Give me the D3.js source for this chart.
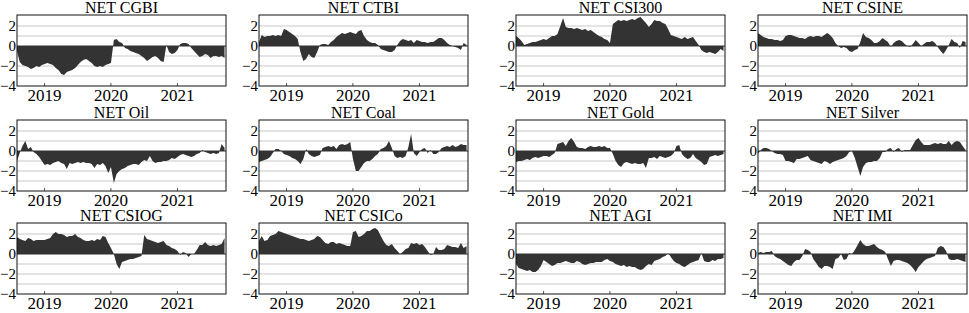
<!DOCTYPE html>
<html>
<head>
<meta charset="utf-8">
<script src="https://cdn.jsdelivr.net/npm/d3@7"></script>
<style>
    body { margin: 0; background: #fff; }
    svg text { font-family: "Liberation Serif", "Times New Roman", serif; fill: #000; }
    .tick text { font-family: "Liberation Serif", "Times New Roman", serif !important; }
</style>
</head>
<body>
<div id="chart"></div>
<script>
// semi-monthly readings, Aug 2018 - Sep 2021
const titles = ["NET CGBI", "NET CTBI", "NET CSI300", "NET CSINE",
    "NET Oil", "NET Coal", "NET Gold", "NET Silver",
    "NET CSIOG", "NET CSICo", "NET AGI", "NET IMI"];

const cgbi = [-0.5,-1.6,-1.9,-2.0,-2.1,-2.3,-2.2,-2.0,-2.1,-1.9,-1.8,-1.7,-1.8,-1.9,-2.2,-2.4,-2.8,-2.9,-2.6,-2.5,
    -2.4,-2.2,-1.9,-1.6,-1.4,-1.3,-1.5,-1.7,-2.0,-2.1,-2.0,-2.1,-1.9,-1.8,-1.7,0.6,0.7,0.4,0.3,-0.2,
    -0.3,-0.5,-0.6,-0.7,-0.8,-1.0,-1.2,-1.5,-1.3,-1.1,-1.0,-1.2,-1.5,-1.6,0.1,-0.6,-0.8,-0.7,-0.4,0.2,
    0.3,0.3,0.2,-0.2,-0.5,-0.8,-1.1,-1.0,-0.8,-0.9,-1.2,-1.0,-1.0,-1.1,-1.0,-1.2];
const ctbi = [0.4,1.1,0.9,1.0,1.0,1.1,1.0,1.1,1.0,1.7,1.6,1.4,1.2,1.0,0.7,-0.6,-1.5,-1.3,-0.8,-1.1,
    -1.2,-0.6,0.1,0.2,0.2,0.1,0.4,0.6,0.9,1.1,1.3,1.2,1.3,1.4,1.3,1.2,1.5,1.6,1.0,0.6,
    0.4,0.3,0.3,0.1,-0.3,-0.4,-0.5,-0.6,-0.6,-0.4,0.1,0.5,0.7,0.6,0.5,0.6,0.3,0.6,0.5,0.4,
    0.4,0.3,0.4,0.4,0.6,0.8,0.8,0.6,0.3,0.1,0.0,-0.1,-0.2,-0.4,0.3,0.1];
const csi300 = [1.0,0.8,0.5,0.1,0.2,0.3,0.4,0.4,0.5,0.6,0.7,0.6,0.8,1.0,1.0,1.2,2.0,2.8,1.9,1.8,
    1.8,1.7,1.8,1.7,1.6,1.7,1.5,1.6,1.4,1.2,1.0,0.9,0.7,0.6,0.3,2.2,2.4,2.6,2.5,2.6,
    2.5,2.6,2.7,2.6,2.8,2.9,2.6,2.3,1.9,2.2,2.6,2.5,2.5,2.3,2.2,1.7,1.1,1.0,0.9,0.8,
    0.7,0.9,0.7,0.8,0.9,0.5,0.1,-0.4,-0.6,-0.7,-0.6,-0.7,-0.8,-0.6,-0.3,-0.5];
const csine = [1.3,1.1,0.9,0.8,0.7,0.7,0.6,0.6,0.5,0.6,1.0,1.1,1.1,1.0,0.9,0.8,0.8,0.7,0.9,1.0,
    0.9,1.0,1.0,0.9,1.1,1.3,1.1,0.8,0.3,0.0,-0.2,-0.1,-0.2,-0.5,-0.6,-0.4,-0.3,0.4,1.3,0.9,
    0.8,0.6,0.3,0.3,0.5,0.8,0.6,0.4,-0.1,0.3,0.5,0.6,0.5,0.2,0.0,-0.1,0.2,0.6,0.3,0.0,
    0.2,0.4,0.4,0.5,0.3,-0.1,-0.5,-0.8,-0.4,0.1,0.7,0.4,0.3,-0.2,0.5,0.4];
const oil = [-1.0,-0.2,0.5,1.0,0.2,0.4,-0.1,-0.3,-0.6,-1.0,-1.4,-1.3,-1.4,-1.2,-1.1,-1.0,-1.2,-1.3,-1.8,-1.2,
    -1.3,-1.2,-1.1,-1.2,-1.1,-1.2,-1.2,-1.3,-1.7,-1.3,-1.4,-1.2,-1.5,-2.2,-1.6,-3.2,-2.3,-2.0,-1.8,-1.7,
    -1.5,-1.4,-1.3,-1.3,-1.4,-1.1,-0.9,-1.0,-0.5,-1.0,-1.2,-1.1,-1.1,-1.0,-1.0,-0.9,-0.7,-0.8,-0.6,-0.4,
    -0.3,-0.4,-0.5,-0.6,-0.5,-0.3,-0.2,0.1,-0.1,-0.2,-0.3,-0.2,-0.3,-0.2,0.7,0.3];
const coal = [-1.1,-1.0,-0.9,-0.8,-0.6,-0.2,0.2,0.2,0.0,-0.3,-0.4,-0.5,-0.7,-0.8,-1.0,-1.3,-0.8,0.2,-0.3,-0.5,
    -0.6,-0.5,-0.4,0.3,0.4,0.5,0.4,0.5,0.2,0.6,0.7,0.6,0.7,0.9,-0.8,-2.0,-2.0,-1.6,-1.2,-1.0,
    -1.0,-0.8,-0.5,-0.3,0.2,0.3,0.5,1.0,0.3,-0.5,-0.7,-0.6,-0.7,-0.5,0.4,1.7,-0.2,-0.5,-0.1,0.2,
    0.3,-0.2,0.1,-0.3,-0.3,-0.1,0.3,0.4,0.5,0.4,0.6,0.4,0.5,0.7,0.6,0.6];
const gold = [-1.1,-1.0,-1.0,-0.9,-0.8,-0.9,-0.7,-0.6,-0.7,-0.6,-0.5,-0.5,-0.6,-0.4,-0.2,0.7,0.8,0.9,0.5,1.0,
    1.3,0.9,0.4,0.3,0.3,0.2,0.4,0.5,0.4,0.4,0.5,0.4,0.5,0.3,0.3,-0.3,-1.0,-1.4,-1.6,-1.2,
    -1.1,-1.2,-1.3,-1.2,-1.3,-1.3,-1.2,-1.7,-0.7,-0.7,-0.6,-0.8,-0.5,-0.6,-0.7,-0.6,-0.5,-0.2,0.5,0.6,
    -0.3,-0.6,-0.8,-0.7,-0.3,-0.7,-0.9,-1.1,-1.4,-1.3,-0.6,-0.5,-0.4,-0.5,-0.4,-0.3];
const silver = [-0.3,0.1,0.3,0.3,0.2,0.0,-0.2,-0.3,-0.3,-0.4,-1.0,-1.0,-1.1,-1.2,-0.8,-0.8,-0.7,-0.6,-0.5,-0.9,
    -1.0,-1.1,-1.2,-1.3,-1.0,-1.1,-1.3,-1.1,-1.0,-0.9,-0.8,-0.7,-0.5,-0.1,0.0,-0.7,-1.6,-2.5,-1.6,-1.2,
    -1.1,-1.1,-1.0,-1.0,-0.7,-0.1,-0.1,0.2,0.3,-0.1,0.2,0.3,-0.1,0.1,0.1,0.1,0.6,1.1,1.3,0.9,
    0.6,0.6,0.6,0.7,0.8,0.7,0.8,0.7,0.7,1.0,0.6,0.9,1.0,0.9,0.5,0.1];
const csiog = [1.7,1.5,1.4,1.3,1.6,1.5,1.3,1.4,1.4,1.4,1.4,1.5,1.6,2.0,2.2,2.0,2.0,1.9,1.7,1.8,
    1.8,2.0,1.7,1.6,1.4,1.3,1.3,1.4,1.3,1.5,1.4,1.8,1.7,1.1,0.6,0.0,-1.0,-1.5,-0.8,-0.7,
    -0.6,-0.5,-0.5,-0.4,-0.3,-0.2,1.9,1.5,1.4,1.3,1.2,1.1,1.2,1.3,0.9,0.8,0.6,0.5,0.3,-0.1,
    0.2,0.1,-0.3,0.0,0.0,0.4,0.9,0.9,1.2,0.9,0.8,0.9,0.8,0.9,1.0,1.6];
const csico = [1.3,1.8,1.3,1.4,1.8,1.9,2.0,2.3,2.2,2.1,2.0,1.9,1.8,1.7,1.6,1.5,1.5,1.4,1.3,1.4,
    1.5,1.8,1.7,1.4,1.1,1.0,1.2,1.2,1.0,1.1,1.0,0.9,0.8,0.8,2.2,2.3,1.7,1.8,2.0,2.3,
    2.3,2.5,2.6,2.4,1.8,1.3,0.9,0.8,1.0,0.6,0.3,0.0,0.2,0.5,0.6,1.1,1.0,1.1,0.9,1.0,
    0.7,0.3,-0.1,0.0,0.7,0.4,0.4,0.5,0.9,0.8,0.7,0.7,0.6,1.1,0.6,0.8];
const agi = [-1.0,-1.4,-1.5,-1.6,-1.7,-1.6,-1.8,-1.8,-1.6,-1.2,-0.6,-0.8,-1.0,-1.2,-1.1,-0.9,-0.9,-0.8,-0.7,-0.8,
    -0.9,-0.9,-0.7,-0.8,-1.0,-1.1,-1.0,-0.9,-0.9,-0.8,-0.8,-0.8,-0.6,-0.5,-0.7,-0.8,-1.0,-1.1,-1.2,-1.1,
    -1.3,-1.2,-1.3,-1.3,-1.5,-1.6,-1.5,-1.2,-1.0,-1.1,-0.7,-0.6,-0.5,-0.3,-0.2,0.1,-0.3,-0.7,-0.9,-1.0,
    -1.2,-1.3,-1.1,-0.9,-0.8,-0.7,-0.6,0.1,-0.7,-0.8,-0.8,-0.6,-0.7,-0.5,-0.5,-0.4];
const imi = [0.1,0.2,0.1,0.2,0.2,0.3,-0.2,-0.4,-0.5,-0.7,-0.9,-1.1,-1.2,-0.8,-0.6,-0.6,-0.2,0.5,0.4,0.2,
    -0.5,-0.9,-1.3,-1.5,-1.2,-1.2,-1.3,-1.5,-0.5,-0.4,0.0,-0.6,-0.5,0.1,0.0,0.4,0.9,1.4,1.0,0.8,
    0.8,0.9,1.0,0.7,0.5,0.4,0.2,-0.5,-1.2,-0.7,-0.6,-0.6,-0.7,-0.8,-0.9,-1.1,-1.4,-1.8,-1.3,-1.0,
    -0.7,-0.5,-0.4,-0.3,-0.2,0.6,0.8,0.7,0.3,-0.5,-0.6,-0.6,-0.5,-0.6,-0.7,-0.8];

const series = [cgbi, ctbi, csi300, csine, oil, coal, gold, silver, csiog, csico, agi, imi];
const yTicks = [2, 0, -2, -4];
const yGrid = [2, 1, -1, -2, -3];
const xTicks = [new Date(2019, 0, 1), new Date(2020, 0, 1), new Date(2021, 0, 1)];

const start = new Date(2018, 7, 5);
const dates = d3.range(cgbi.length).map(i => d3.timeDay.offset(start, Math.round(i * 15.22)));

function init() {
    let w = 969;
    let h = 313;
    let pw = 209;
    let ph = 71;
    let colX = [17, 259, 516, 758];
    let rowY = [15, 120, 223];

    let svg = d3.select("#chart")
        .append("svg")
        .attr("width", w)
        .attr("height", h);

    let x = d3.scaleTime()
        .domain([start, new Date(2021, 8, 28)])
        .range([0, pw]);

    let y = d3.scaleLinear()
        .domain([-4, 3.1])
        .range([ph, 0]);

    let area = d3.area()
        .x((d, i) => x(dates[i]))
        .y0(y(0))
        .y1(d => y(d));

    series.forEach(function (vals, k) {
        let g = svg.append("g")
            .attr("transform", "translate(" + colX[k % 4] + "," + rowY[Math.floor(k / 4)] + ")");

        // grid
        g.selectAll(".grid")
            .data(yGrid)
            .enter()
            .append("line")
            .attr("x1", 0)
            .attr("x2", pw)
            .attr("y1", d => y(d))
            .attr("y2", d => y(d))
            .attr("stroke", "#c8c8c8")
            .attr("stroke-width", 1);

        g.append("path")
            .datum(vals)
            .attr("d", area)
            .attr("fill", "#333");

        g.append("line")
            .attr("x1", 0)
            .attr("x2", pw)
            .attr("y1", y(0))
            .attr("y2", y(0))
            .attr("stroke", "#333")
            .attr("stroke-width", 1);

        let xa = g.append("g")
            .attr("transform", "translate(0," + ph + ")")
            .call(d3.axisBottom(x).tickValues(xTicks).tickFormat(d3.timeFormat("%Y")).tickSize(-3).tickPadding(3));
        xa.attr("font-family", null).attr("font-size", null);
        xa.select(".domain").remove();
        xa.selectAll(".tick text")
            .style("font-size", "17px");
        xa.selectAll("line").attr("stroke", "#555");

        let ya = g.append("g")
            .call(d3.axisLeft(y).tickValues(yTicks).tickSize(0).tickPadding(1));
        ya.attr("font-family", null).attr("font-size", null);
        ya.select(".domain").remove();
        ya.selectAll(".tick text")
            .style("font-size", "15px");

        g.append("rect")
            .attr("width", pw)
            .attr("height", ph)
            .attr("fill", "none")
            .attr("stroke", "#111")
            .attr("stroke-width", 1);

        g.append("text")
            .attr("x", pw / 2)
            .attr("y", -2)
            .attr("text-anchor", "middle")
            .style("font-size", "16px")
            .text(titles[k]);
    });
}

window.onload = init;
</script>
</body>
</html>
